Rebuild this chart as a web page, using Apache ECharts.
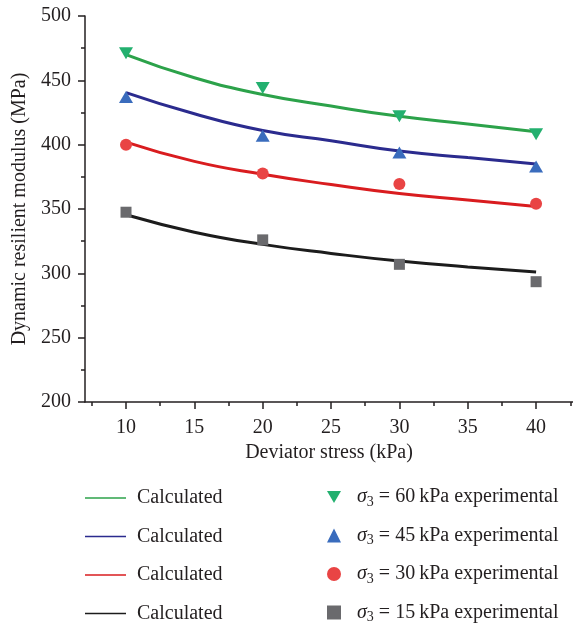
<!DOCTYPE html>
<html>
<head>
<meta charset="utf-8">
<script src="https://cdn.jsdelivr.net/npm/echarts@6/dist/echarts.min.js"></script>
<style>html,body{margin:0;padding:0;background:#fff}#c{width:573px;height:627px}</style>
</head>
<body>
<div id="c"></div>
<script>
// Data
var stress = [10, 20, 30, 40];
var exp60 = [471, 444, 422, 408];
var exp45 = [437, 407, 394, 383];
var exp30 = [400, 377.5, 369.5, 354];
var exp15 = [347.5, 326, 307, 293.5];

var curveX = [10, 15, 20, 25, 30, 35, 40];
var calc60 = [470, 452, 439, 430, 422, 416, 410];
var calc45 = [440.5, 424, 411, 403, 395, 390, 385];
var calc30 = [402, 387, 377, 369, 362, 357, 352];
var calc15 = [345.5, 332, 322.5, 315.5, 309.5, 305, 301];

var xTicks = [10, 15, 20, 25, 30, 35, 40];
var xMinorTicks = [7.5, 12.5, 17.5, 22.5, 27.5, 32.5, 37.5, 42.5];
var expLabels = ['60', '45', '30', '15'];

function pairs(xs, ys) { return xs.map(function (x, i) { return [x, ys[i]]; }); }

var FONT = '"Liberation Serif", "DejaVu Serif", serif';
var lineColors = ['#2ca24a', '#2b2b8e', '#d91c1f', '#1c1c1c'];
var markColors = ['#23b06f', '#3a6cbd', '#e94444', '#6a6a6d'];
var downTri = 'path://M0,0 L10,0 L5,8.66 Z';
var symbols = [downTri, 'triangle', 'circle', 'rect'];
var symSizes = [[14, 12], [14, 12], 12, 11];
var calcs = [calc60, calc45, calc30, calc15];
var exps = [exp60, exp45, exp30, exp15];

var series = [];
var calcNames = [], expNames = [];
for (var i = 0; i < 4; i++) {
  calcNames.push('calc' + i);
  series.push({
    name: 'calc' + i, type: 'line', xAxisIndex: 0, yAxisIndex: 0,
    data: pairs(curveX, calcs[i]), smooth: true, symbol: 'none',
    lineStyle: { color: lineColors[i], width: 3 }, itemStyle: { color: lineColors[i] }, z: 2
  });
}
for (var j = 0; j < 4; j++) {
  expNames.push('exp' + j);
  series.push({
    name: 'exp' + j, type: 'scatter', xAxisIndex: 0, yAxisIndex: 0,
    data: pairs(stress, exps[j]), symbol: symbols[j], symbolSize: symSizes[j],
    itemStyle: { color: markColors[j], opacity: 1 }, z: 3
  });
}

var chart = echarts.init(document.getElementById('c'), null, { renderer: 'canvas' });
chart.setOption({
  animation: false,
  backgroundColor: '#fff',
  textStyle: { fontFamily: FONT },
  grid: { left: 85, right: 0, top: 16, bottom: 225, containLabel: false, outerBoundsMode: 'none' },
  xAxis: [{
    type: 'value', min: 7, max: 42.7,
    name: 'Deviator stress (kPa)', nameLocation: 'middle', nameGap: 40,
    nameTextStyle: { fontFamily: FONT, fontSize: 20, color: '#231f20' },
    axisLine: { show: true, lineStyle: { color: '#231f20', width: 1.5 } },
    axisTick: { show: true, length: 7, customValues: xTicks, lineStyle: { color: '#231f20', width: 1.5 } },
    axisLabel: { show: true, customValues: xTicks, margin: 16, fontFamily: FONT, fontSize: 20, color: '#231f20' },
    splitLine: { show: false }
  }, {
    type: 'value', min: 7, max: 42.7, position: 'bottom',
    axisLine: { show: false },
    axisTick: { show: true, length: 4, customValues: xMinorTicks, lineStyle: { color: '#231f20', width: 1.5 } },
    axisLabel: { show: false, customValues: xMinorTicks },
    splitLine: { show: false }
  }],
  yAxis: [{
    type: 'value', min: 200, max: 500, interval: 50,
    name: 'Dynamic resilient modulus (MPa)', nameLocation: 'middle', nameGap: 54,
    nameTextStyle: { fontFamily: FONT, fontSize: 20, color: '#231f20' },
    axisLine: { show: true, lineStyle: { color: '#231f20', width: 1.5 } },
    axisTick: { show: true, length: 7, lineStyle: { color: '#231f20', width: 1.5 } },
    minorTick: { show: true, splitNumber: 2, length: 4, lineStyle: { color: '#231f20', width: 1.5 } },
    axisLabel: { margin: 14, fontFamily: FONT, fontSize: 20, color: '#231f20' },
    splitLine: { show: false }
  }],
  legend: [{
    data: calcNames, orient: 'vertical', left: 85, top: 488, height: 139, padding: 0,
    itemWidth: 41, itemHeight: 14, itemGap: 18.5,
    icon: 'path://M0,0 L41,0 L41,1.6 L0,1.6 Z',
    formatter: function () { return 'Calculated'; },
    textStyle: { fontFamily: FONT, fontSize: 20, lineHeight: 20, color: '#231f20', padding: [0, 0, 0, 6] },
    selectedMode: false
  }, {
    data: expNames, orient: 'vertical', left: 327, top: 487, height: 140, padding: 0,
    itemWidth: 14, itemHeight: 14, itemGap: 16.5,
    formatter: function (name) {
      var k = +name.slice(3);
      return '{s|σ}{b|3}{t| = ' + expLabels[k] + '\u2009kPa experimental}';
    },
    textStyle: {
      fontFamily: FONT, fontSize: 20, color: '#231f20', padding: [0, 0, 0, 11],
      rich: {
        s: { fontFamily: FONT, fontSize: 20, fontStyle: 'italic', color: '#231f20' },
        b: { fontFamily: FONT, fontSize: 14, color: '#231f20', verticalAlign: 'bottom', padding: [10, 0, 0, 0] },
        t: { fontFamily: FONT, fontSize: 20, color: '#231f20' }
      }
    },
    selectedMode: false
  }],
  series: series
});
</script>
</body>
</html>
